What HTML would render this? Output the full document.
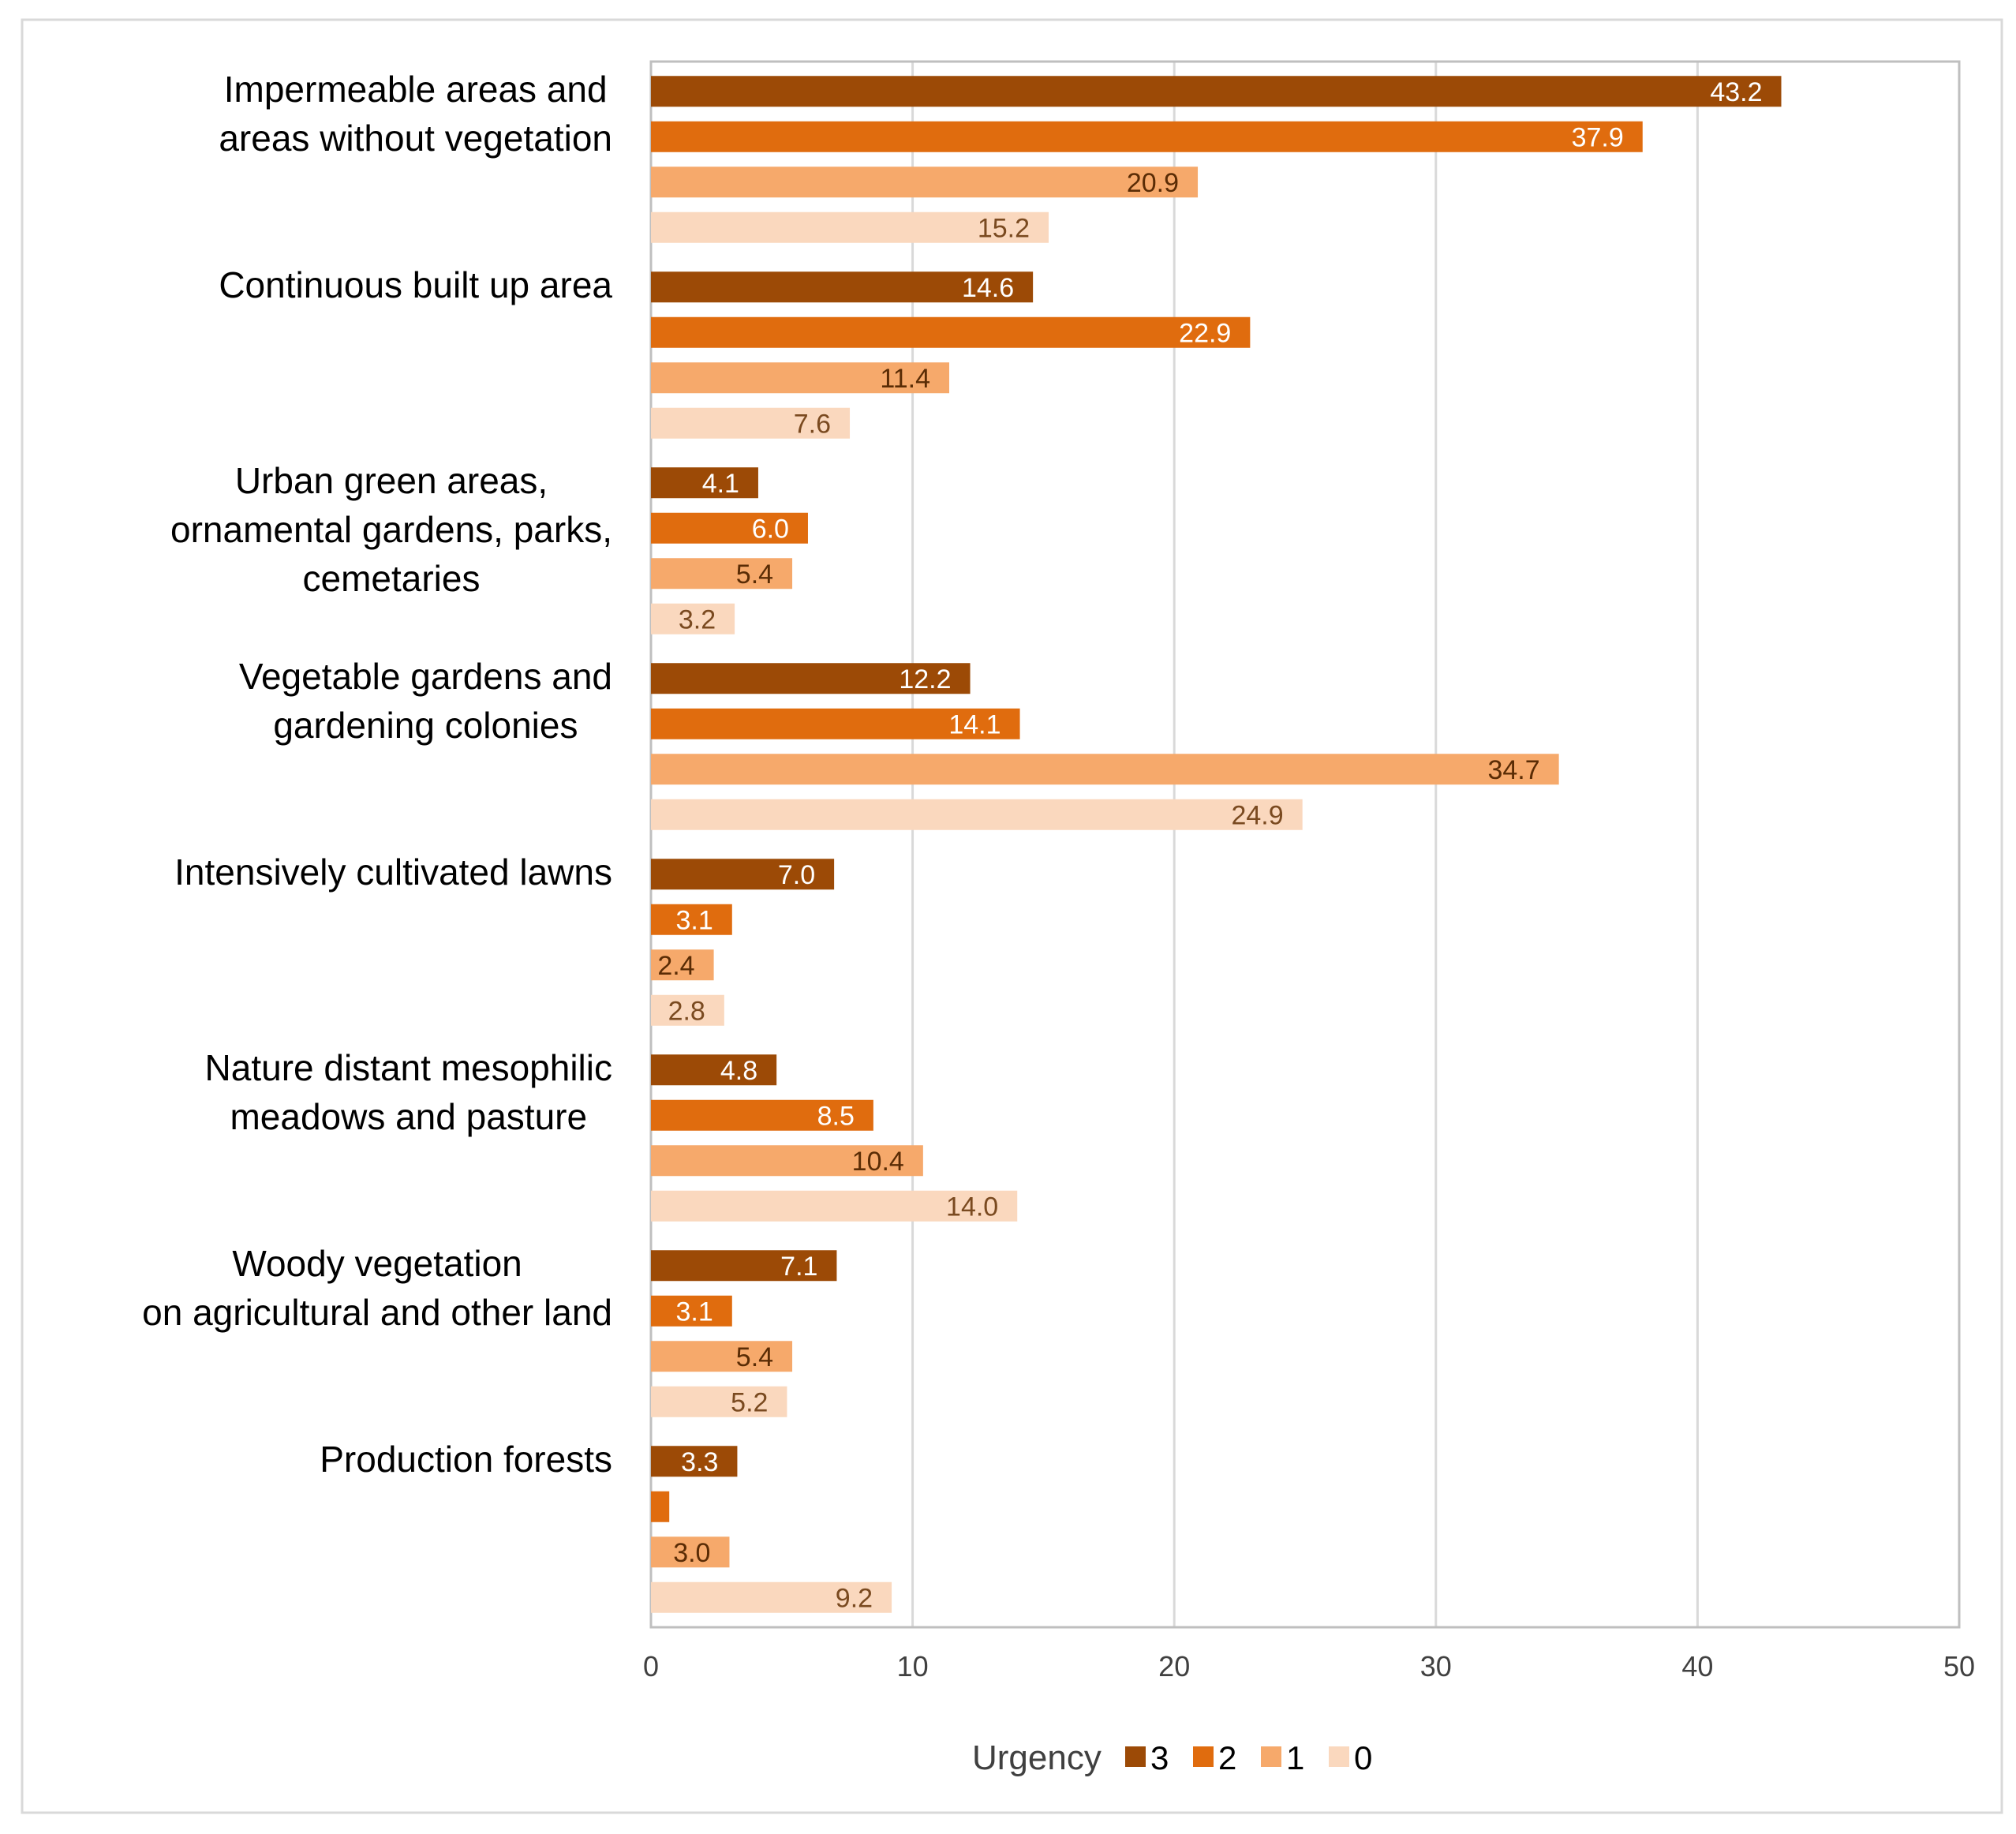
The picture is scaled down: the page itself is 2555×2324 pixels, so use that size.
<!DOCTYPE html>
<html><head><meta charset="utf-8"><style>
html,body{margin:0;padding:0;background:#fff;}
svg{display:block;font-family:"Liberation Sans",sans-serif;}
</style></head><body>
<svg id="chart" width="2555" height="2324" viewBox="0 0 2555 2324">
<rect x="28" y="25" width="2509" height="2272" fill="#fff" stroke="#d9d9d9" stroke-width="3"/>
<g id="grid"></g><g id="bars"></g><g id="cats"></g><g id="ticks"></g><g id="legend"></g>
</svg>
<script>
const categories = [
 ["Impermeable areas and","areas without vegetation"],
 ["Continuous built up area"],
 ["Urban green areas,","ornamental gardens, parks,","cemetaries"],
 ["Vegetable gardens and","gardening colonies"],
 ["Intensively cultivated lawns"],
 ["Nature distant mesophilic","meadows and pasture"],
 ["Woody vegetation","on agricultural and other land"],
 ["Production forests"]
];
const seriesNames = ["3","2","1","0"];
const urgency3 = [43.2,14.6,4.1,12.2,7.0,4.8,7.1,3.3];
const urgency2 = [37.9,22.9,6.0,14.1,3.1,8.5,3.1,0.7];
const urgency1 = [20.9,11.4,5.4,34.7,2.4,10.4,5.4,3.0];
const urgency0 = [15.2,7.6,3.2,24.9,2.8,14.0,5.2,9.2];
const showLabel2 = [true,true,true,true,true,true,true,false];
const xTicks = [0,10,20,30,40,50];

const NS="http://www.w3.org/2000/svg";
const colors=["#9C4A06","#E06C0E","#F6A96B","#FAD8BE"];
const textCols=["#fff","#fff","#5a2c05","#7a4a20"];
const series=[urgency3,urgency2,urgency1,urgency0];
const X0=825,X1=2483,Y0=78,Y1=2062;
const band=(Y1-Y0)/categories.length;
function xs(v){return X0+(v/50)*(X1-X0);}
function mk(tag,attrs,parent){const e=document.createElementNS(NS,tag);for(const k in attrs)e.setAttribute(k,attrs[k]);parent.appendChild(e);return e;}
const grid=document.getElementById('grid'),bars=document.getElementById('bars'),cats=document.getElementById('cats'),ticks=document.getElementById('ticks'),legend=document.getElementById('legend');
xTicks.forEach(t=>{
 if(t>0&&t<50){const l=mk('line',{x1:xs(t),x2:xs(t),y1:Y0,y2:Y1,stroke:'#d9d9d9','stroke-width':3},grid);
 
 }
 const tx=mk('text',{x:xs(t),y:2124,'font-size':36,'text-anchor':'middle',fill:'#404040'},ticks);
 tx.textContent=t;
 
 
});
const frame=mk('rect',{x:X0,y:Y0,width:X1-X0,height:Y1-Y0,fill:'none',stroke:'#bfbfbf','stroke-width':3},grid);


const pitch=57.5,bh=39;
categories.forEach((c,i)=>{
 const top=Y0+i*band;
 const gc=top+band/2;
 series.forEach((s,j)=>{
  const cy=gc+(j-1.5)*pitch;
  const r=mk('rect',{x:X0,y:cy-bh/2,width:xs(s[i])-X0,height:bh,fill:colors[j]},bars);
  
  
  if(j===1&&!showLabel2[i])return;
  const t=mk('text',{x:xs(s[i])-24,y:cy+12,'font-size':34,'text-anchor':'end',fill:textCols[j]},bars);
  t.textContent=s[i].toFixed(1);
  
  
 });
 const t=mk('text',{'font-size':46,'text-anchor':'middle',fill:'#000'},cats);
 
 
 c.forEach((line,k)=>{
  const ts=mk('tspan',{x:776,y:top+36+15+k*62,'text-anchor':'end'},t);
  ts.textContent=line;
 });
});
cats.querySelectorAll('text').forEach(t=>{
 const spans=[...t.querySelectorAll('tspan')];
 if(spans.length<2)return;
 const ws=spans.map(s=>s.getComputedTextLength());
 const mx=Math.max(...ws);
 spans.forEach((s,k)=>{s.setAttribute('x',776-(mx-ws[k])/2);});
});
const lt=mk('text',{x:1232,y:2242,'font-size':44,fill:'#404040'},legend);
lt.textContent='Urgency';


const lx=[1426,1512,1598,1684];
seriesNames.forEach((n,j)=>{
 const r=mk('rect',{x:lx[j],y:2213,width:26,height:26,fill:colors[j]},legend);
 
 
 const t=mk('text',{x:lx[j]+32,y:2242,'font-size':42,fill:'#000'},legend);
 t.textContent=n;
 
 
});
</script>
</body></html>
